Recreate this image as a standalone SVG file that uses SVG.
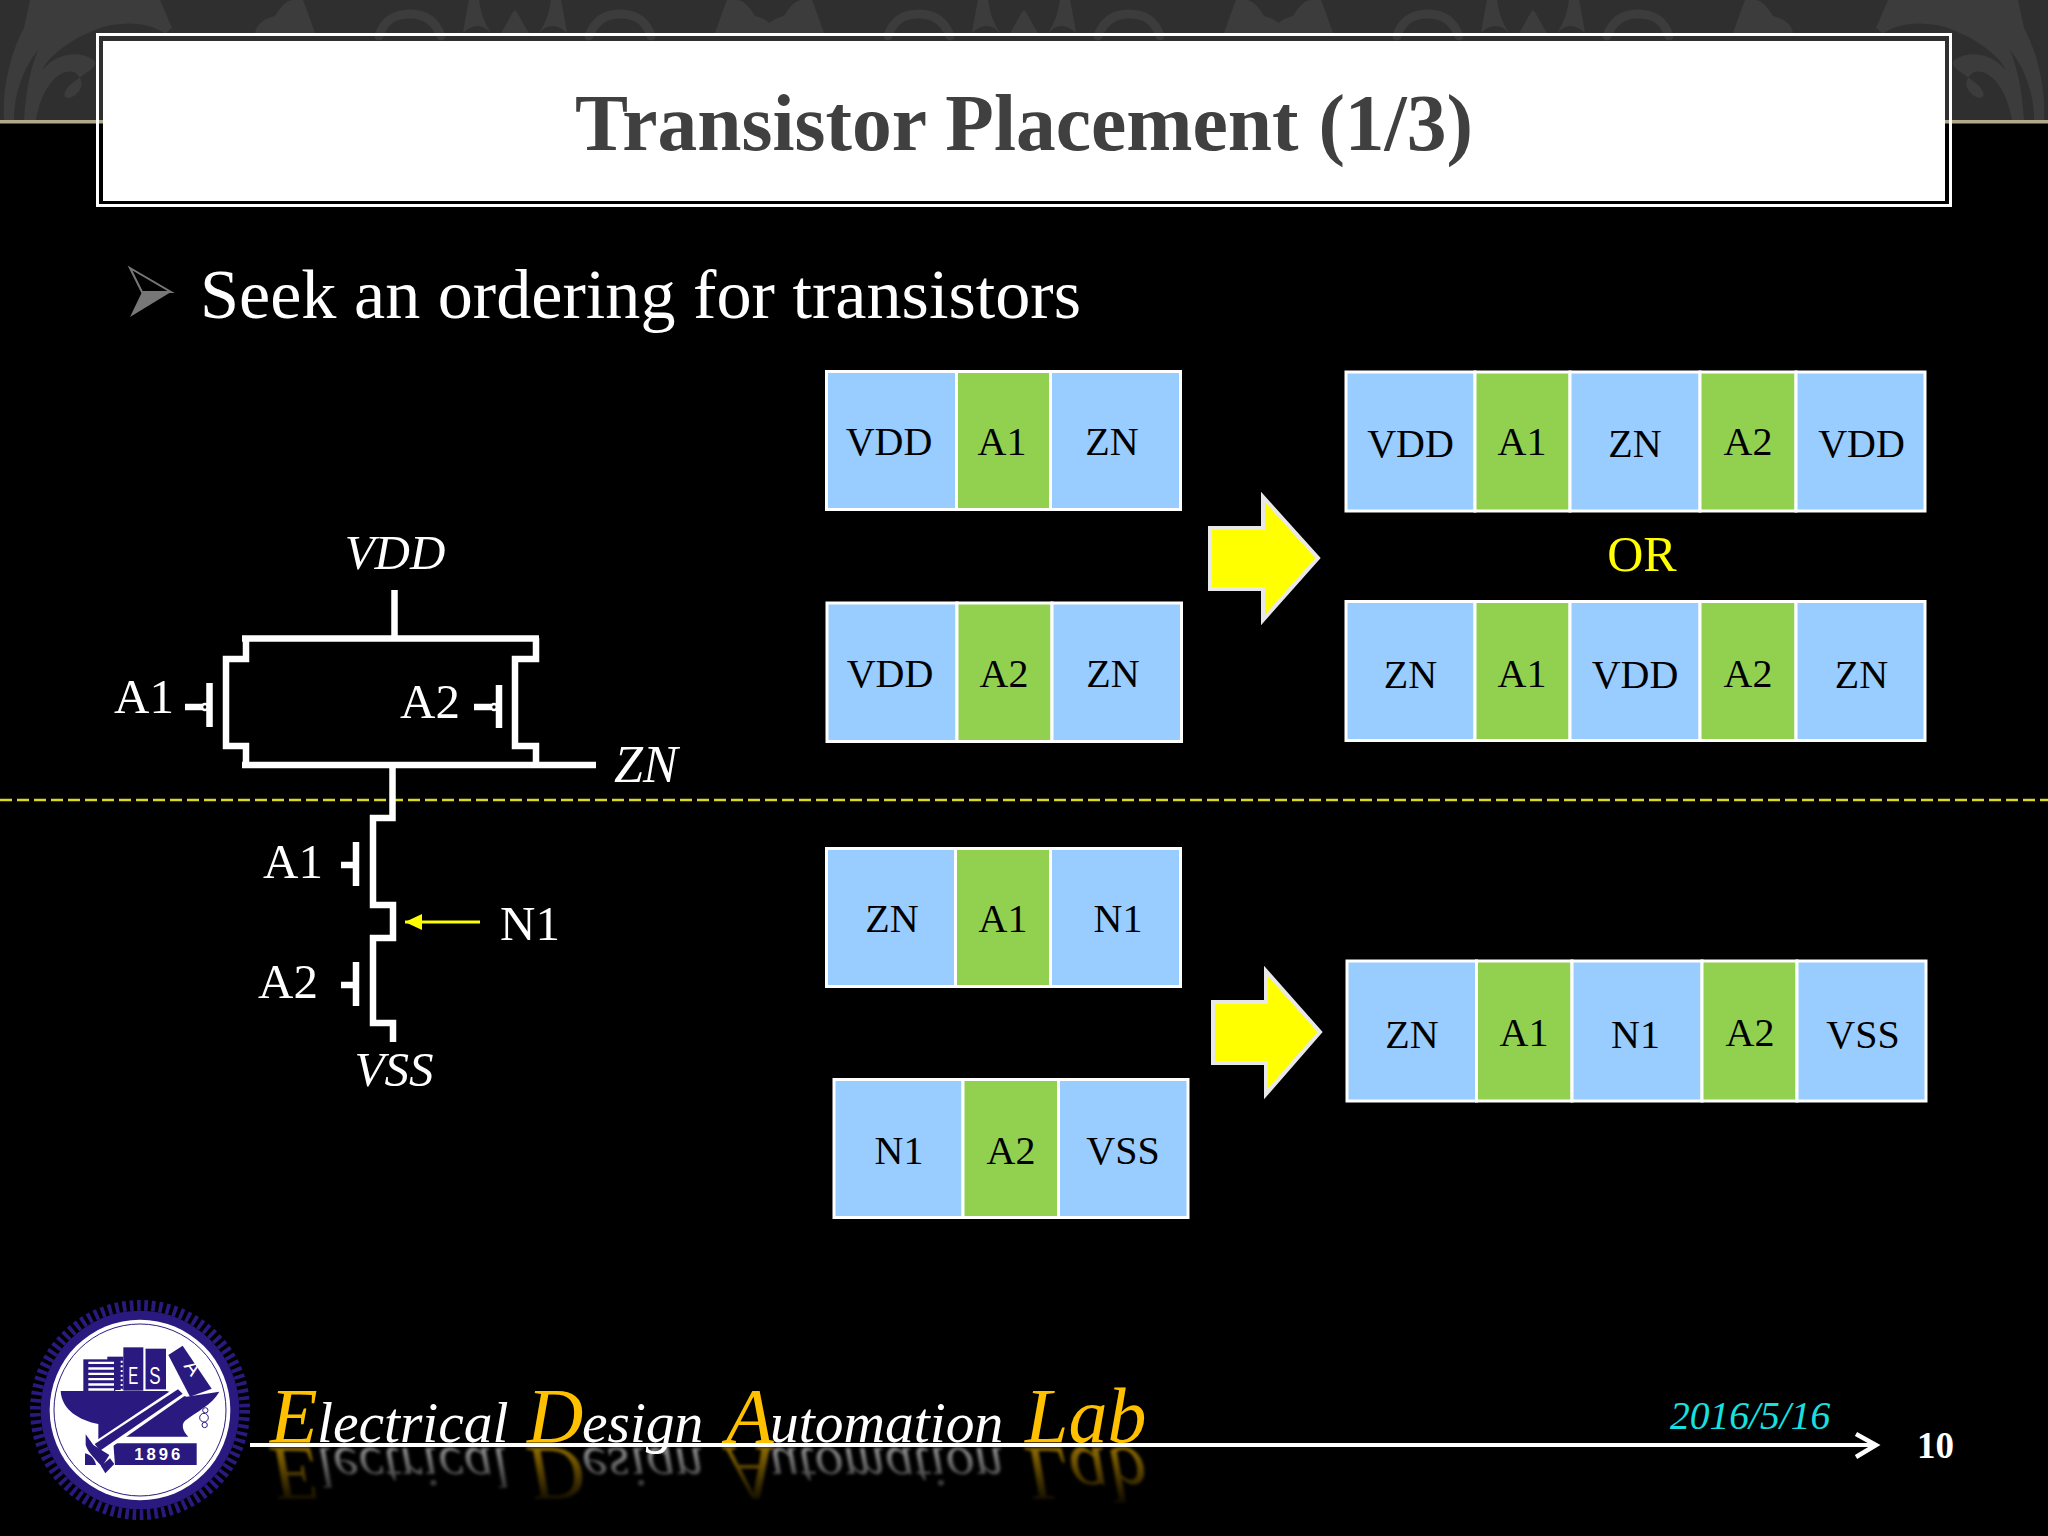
<svg xmlns="http://www.w3.org/2000/svg" xmlns:xlink="http://www.w3.org/1999/xlink" width="2048" height="1536" viewBox="0 0 2048 1536">
<defs>
<style>
text{font-family:"Liberation Serif","Times New Roman",serif}
.cell{stroke:#fff;stroke-width:3}
.b{fill:#99ccff}.g{fill:#92d050}
.t{font-size:40px;fill:#000;text-anchor:middle}
.w{font-size:49px;fill:#fff}
.i{font-style:italic}
.wire{fill:none;stroke:#fff;stroke-width:6.500}
.fat{fill:#ffff00;stroke:#e8e8e8;stroke-width:4}
.flo{fill:#3c3c3c}
.flos{fill:none;stroke:#3c3c3c;stroke-linecap:round}
.navy{fill:#2a1a80}
.ey{fill:#ffc000;font-size:78px;font-style:italic}
.ew{fill:#fff;font-size:57.500px;font-style:italic}
</style>
<marker id="ya" markerUnits="userSpaceOnUse" markerWidth="18" markerHeight="18" refX="17" refY="8" orient="auto"><path d="M0,0L17,8L0,16z" fill="#ffff00"/></marker>
<linearGradient id="fade" gradientUnits="userSpaceOnUse" x1="0" y1="1448" x2="0" y2="1500"><stop offset="0" stop-color="#fff" stop-opacity=".55"/><stop offset="1" stop-color="#fff" stop-opacity=".08"/></linearGradient>
<mask id="rm" maskUnits="userSpaceOnUse" x="240" y="1447" width="950" height="70"><rect x="240" y="1447" width="950" height="70" fill="url(#fade)"/></mask>
<filter id="bl" filterUnits="userSpaceOnUse" x="240" y="1440" width="950" height="80"><feGaussianBlur stdDeviation="1.800"/></filter>
<g id="motif">
<path class="flo" d="M-52,33C-50,20 -48,10 -46,0L-36,0C-34,14 -30,24 -24,33L-30,28C-38,24 -44,26 -52,33z"/>
<path class="flo" d="M52,33C50,20 48,10 46,0L36,0C34,14 30,24 24,33L30,28C38,24 44,26 52,33z"/>
<path class="flo" d="M-14,33C-8,24 -4,14 0,10C4,14 8,24 14,33z"/>
<path class="flos" stroke-width="9" d="M-136,36C-130,18 -118,14 -105,14C-92,14 -80,20 -74,36"/>
<path class="flos" stroke-width="9" d="M136,36C130,18 118,14 105,14C92,14 80,20 74,36"/>
<path class="flo" d="M-260,33C-258,22 -248,18 -240,16C-234,6 -228,0 -222,0L-212,0C-208,10 -204,22 -200,33z"/>
<path class="flo" d="M260,33C258,22 248,18 240,16C234,6 228,0 222,0L212,0C208,10 204,22 200,33z"/>
</g>
<g id="plume">
<path class="flo" d="M4,120C2,85 12,50 24,28L30,0L160,0L172,28L165,34C150,22 120,20 95,30C70,40 50,55 42,70C55,55 75,50 90,58C105,65 85,72 70,85C60,95 65,100 72,97C85,90 84,78 74,72C60,68 42,85 36,120L24,120C26,90 30,70 38,50C22,70 14,95 14,120z"/>
</g>
</defs>
<rect id="background" width="2048" height="1536" fill="#000"/>
<g id="band">
<rect width="2048" height="122" fill="#2f2f2f"/>
<use href="#plume"/>
<use href="#plume" transform="translate(2048,0) scale(-1,1)"/>
<use href="#motif" x="515"/>
<use href="#motif" x="1024"/>
<use href="#motif" x="1533"/>
<rect y="120" width="2048" height="3.500" fill="#b5a98c"/>
</g>
<g id="title">
<rect x="97.500" y="34.500" width="1853" height="171" fill="none" stroke="#fff" stroke-width="3"/>
<rect x="103" y="41" width="1842" height="160" fill="#fff"/>
<text x="1024" y="150" text-anchor="middle" font-size="79.500" font-weight="bold" fill="#404040">Transistor Placement (1/3)</text>
</g>
<g id="bullet">
<path d="M130,268L171,292H142z" fill="none" stroke="#777" stroke-width="2"/>
<path d="M130,317L171,292H142z" fill="#777"/>
<text x="200" y="318" font-size="70.200" fill="#fff">Seek an ordering for transistors</text>
</g>
<line id="divider" x1="0" y1="800" x2="2048" y2="800" stroke="#d8d820" stroke-width="2.500" stroke-dasharray="12 5"/>
<g id="schematic">
<path class="wire" d="M394.500,590V638M242,638.500H539M246,638V659H226V746H246V765M536,638V659H515V746H536V765M242,765H596"/>
<path class="wire" d="M392.500,766V818H373V905H393V938H373V1023H393V1042"/>
<path class="wire" d="M209.500,683V727M185,707H203M499,685V728M474,707H491M356,842V886M341,865H356M356,962V1006M341,985H356"/>
<circle cx="205" cy="707" r="3" fill="none" stroke="#fff" stroke-width="2.500"/>
<circle cx="494" cy="707" r="3" fill="none" stroke="#fff" stroke-width="2.500"/>
<text class="w i" x="395" y="569" text-anchor="middle">VDD</text>
<text class="w" x="114" y="713">A1</text>
<text class="w" x="400" y="718">A2</text>
<text class="w i" x="614" y="782" style="font-size:52px">ZN</text>
<text class="w" x="263" y="878">A1</text>
<text class="w" x="258" y="998">A2</text>
<text class="w" x="500" y="940">N1</text>
<text class="w i" x="394" y="1086" text-anchor="middle">VSS</text>
</g>
<g id="connectors">
<line x1="480" y1="922" x2="405" y2="922" stroke="#ffff00" stroke-width="3" marker-end="url(#ya)"/>
<path class="fat" d="M1210,528H1263V497L1318,558L1263,620V589H1210z"/>
<path class="fat" d="M1213,1002H1266V971L1320,1032L1266,1094V1063H1213z"/>
</g>
<g id="row-vdd-a1-zn">
<rect class="cell b" x="826.500" y="371.500" width="130" height="138"/><rect class="cell g" x="956.500" y="371.500" width="94" height="138"/><rect class="cell b" x="1050.500" y="371.500" width="130" height="138"/>
<text class="t" x="889" y="455">VDD</text><text class="t" x="1002" y="455">A1</text><text class="t" x="1112" y="455">ZN</text>
</g>
<g id="row-vdd-a2-zn">
<rect class="cell b" x="827" y="603" width="130" height="138.500"/><rect class="cell g" x="957" y="603" width="95" height="138.500"/><rect class="cell b" x="1052" y="603" width="129.500" height="138.500"/>
<text class="t" x="890" y="687">VDD</text><text class="t" x="1004" y="687">A2</text><text class="t" x="1113" y="687">ZN</text>
</g>
<g id="row-vdd-a1-zn-a2-vdd">
<rect class="cell b" x="1346" y="372" width="129" height="139"/><rect class="cell g" x="1475" y="372" width="95" height="139"/><rect class="cell b" x="1570" y="372" width="130" height="139"/><rect class="cell g" x="1700" y="372" width="96" height="139"/><rect class="cell b" x="1796" y="372" width="129" height="139"/>
<text class="t" x="1410.500" y="457">VDD</text><text class="t" x="1522" y="455">A1</text><text class="t" x="1635" y="457">ZN</text><text class="t" x="1748" y="455">A2</text><text class="t" x="1861.500" y="457">VDD</text>
</g>
<text id="or" x="1642" y="571" text-anchor="middle" font-size="50" fill="#ffff00">OR</text>
<g id="row-zn-a1-vdd-a2-zn">
<rect class="cell b" x="1346" y="601.500" width="129" height="139"/><rect class="cell g" x="1475" y="601.500" width="95" height="139"/><rect class="cell b" x="1570" y="601.500" width="130" height="139"/><rect class="cell g" x="1700" y="601.500" width="96" height="139"/><rect class="cell b" x="1796" y="601.500" width="129" height="139"/>
<text class="t" x="1410.500" y="688">ZN</text><text class="t" x="1522" y="687">A1</text><text class="t" x="1635" y="688">VDD</text><text class="t" x="1748" y="687">A2</text><text class="t" x="1861.500" y="688">ZN</text>
</g>
<g id="row-zn-a1-n1">
<rect class="cell b" x="826.500" y="848.500" width="129" height="138"/><rect class="cell g" x="955.500" y="848.500" width="95" height="138"/><rect class="cell b" x="1050.500" y="848.500" width="130" height="138"/>
<text class="t" x="892" y="932">ZN</text><text class="t" x="1003" y="932">A1</text><text class="t" x="1118" y="932">N1</text>
</g>
<g id="row-n1-a2-vss">
<rect class="cell b" x="834" y="1079.500" width="129" height="138"/><rect class="cell g" x="963" y="1079.500" width="95.500" height="138"/><rect class="cell b" x="1058.500" y="1079.500" width="129.500" height="138"/>
<text class="t" x="899" y="1164">N1</text><text class="t" x="1011" y="1164">A2</text><text class="t" x="1123" y="1164">VSS</text>
</g>
<g id="row-zn-a1-n1-a2-vss">
<rect class="cell b" x="1347" y="961" width="129.500" height="140"/><rect class="cell g" x="1476.500" y="961" width="95.500" height="140"/><rect class="cell b" x="1572" y="961" width="130" height="140"/><rect class="cell g" x="1702" y="961" width="95" height="140"/><rect class="cell b" x="1797" y="961" width="129" height="140"/>
<text class="t" x="1412" y="1048">ZN</text><text class="t" x="1524" y="1046">A1</text><text class="t" x="1635.500" y="1048">N1</text><text class="t" x="1750" y="1046">A2</text><text class="t" x="1863" y="1048">VSS</text>
</g>
<g id="logo" transform="translate(20,1290) scale(.33333)">
<circle cx="360" cy="360" r="298" class="navy"/>
<circle cx="360" cy="360" r="314" fill="none" stroke="#2a1a80" stroke-width="32" stroke-dasharray="11 10.930"/>
<circle cx="360" cy="360" r="271" fill="#fff"/>
<circle cx="360" cy="360" r="258" fill="none" stroke="#2a1a80" stroke-width="3"/>
<rect class="navy" x="190" y="208" width="96" height="97"/>
<rect class="navy" x="262" y="200" width="48" height="100"/>
<rect class="navy" x="310" y="172" width="60" height="130"/>
<rect class="navy" x="376" y="176" width="62" height="122"/>
<path class="navy" d="M488,167L575,296L510,320L445,195z"/>
<path fill="#fff" d="M205,215H282V222H205zM205,232H282V239H205zM205,248H282V255H205zM205,264H282V271H205zM205,280H282V287H205zM205,295H282V302H205z"/>
<path stroke="#fff" stroke-width="6" stroke-dasharray="6 8" d="M305,212V305" fill="none"/>
<rect x="372" y="178" width="4" height="120" fill="#fff"/>
<text x="340" y="281" text-anchor="middle" font-size="72" fill="#fff" style="font-family:'Liberation Sans',sans-serif" textLength="30" lengthAdjust="spacingAndGlyphs">E</text>
<text x="405" y="281" text-anchor="middle" font-size="72" fill="#fff" style="font-family:'Liberation Sans',sans-serif" textLength="34" lengthAdjust="spacingAndGlyphs">S</text>
<text x="0" y="0" transform="translate(490,228) rotate(55)" font-size="62" fill="#fff" style="font-family:'Liberation Sans',sans-serif">A</text>
<path class="navy" d="M122,303H440L500,320L598,305C575,345 530,365 495,392C482,405 490,425 505,440H300L235,462V402C180,392 125,360 122,303z"/>
<path class="navy" d="M280,460H530V525H285z"/>
<path fill="#fff" d="M478,285L502,312L245,492L213,462z"/>
<path class="navy" d="M474,298L488,311L240,482L224,462z"/>
<path class="navy" d="M197,433L220,465L268,495L246,530C225,505 205,490 197,465z"/>
<path class="navy" d="M195,490C215,495 225,510 228,525H195z"/>
<path class="navy" d="M243,528L270,505L283,522L256,550z"/>
<text x="416" y="510" text-anchor="middle" font-size="50" font-weight="bold" fill="#fff" letter-spacing="9" style="font-family:'Liberation Sans',sans-serif">1896</text>
<g fill="#fff" stroke="#2a1a80" stroke-width="3"><circle cx="556" cy="361" r="8"/><circle cx="554" cy="405" r="8"/><circle cx="552" cy="383" r="13"/></g>
</g>
<g id="edl-reflection" mask="url(#rm)"><g filter="url(#bl)"><use href="#edl" transform="translate(0,2890) scale(1,-1)"/></g></g>
<g id="footer">
<line x1="250" y1="1445" x2="1876" y2="1445" stroke="#fff" stroke-width="4"/>
<path d="M1856,1434L1876,1445L1856,1457" fill="none" stroke="#fff" stroke-width="4.500"/>
<g id="edl">
<text class="ey" x="270" y="1442">E</text>
<text class="ew" x="317" y="1442">lectrical</text>
<text class="ey" x="527" y="1442">D</text>
<text class="ew" x="582" y="1442">esign</text>
<text class="ey" x="726" y="1442">A</text>
<text class="ew" x="770" y="1442">utomation</text>
<text class="ey" x="1025" y="1442">Lab</text>
</g>
<text x="1670" y="1429" font-size="39.500" font-style="italic" fill="#19e0e0">2016/5/16</text>
<text x="1917" y="1458" font-size="37" font-weight="bold" fill="#fff">10</text>
</g>
</svg>
